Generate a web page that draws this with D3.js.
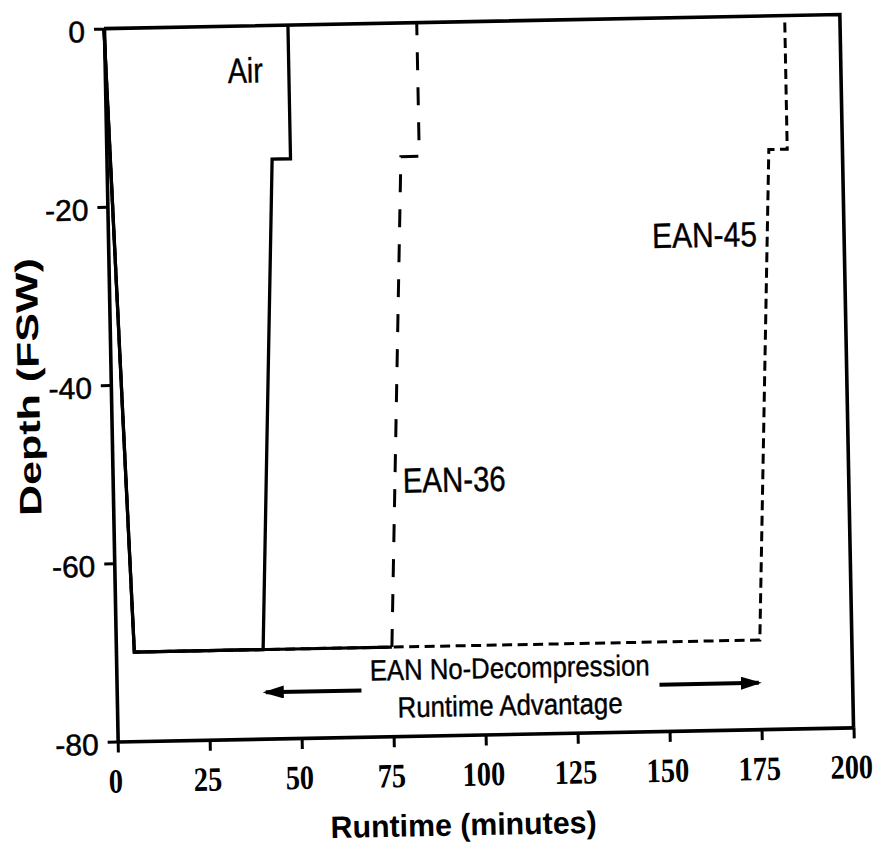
<!DOCTYPE html>
<html>
<head>
<meta charset="utf-8">
<script src="https://cdn.jsdelivr.net/npm/d3@7"></script>
<style>
  body { margin: 0; background: #fff; }
  svg { display: block; }
</style>
</head>
<body>
<svg id="chart" width="878" height="845"></svg>
<script>
// Axis ticks
const runtimeTicks = [0, 25, 50, 75, 100, 125, 150, 175, 200];
const depthTicks = [0, -20, -40, -60, -80];

// Dive profiles: runtime (minutes) and depth (FSW)
const airRuntime   = [0, 5, 40, 45, 50, 50];
const airDepth     = [0, -70, -70, -15, -15, 0];
const ean36Runtime = [0, 5, 75, 80, 85, 85];
const ean36Depth   = [0, -70, -70, -15, -15, 0];
const ean45Runtime = [0, 5, 175, 180, 185, 185];
const ean45Depth   = [0, -70, -70, -15, -15, 0];

// Runtime-advantage arrows (from, to) and their depth
const advantageLeft = [66.5, 40.5];
const advantageRight = [147.5, 174.5];
const advantageDepth = -74.8;

const sans = "'Liberation Sans', Arial, Helvetica, sans-serif";
const serif = "'Liberation Serif', 'Times New Roman', serif";

const svg = d3.select("#chart");
const g = svg.append("g").attr("transform", "rotate(-1.1 478.75 378)");

const x = d3.scaleLinear().domain([0, 200]).range([110.75, 846.75]);
const y = d3.scaleLinear().domain([0, -80]).range([21.5, 734.5]);

// Plain hyphen-minus tick labels
const plain = d => String(d);

// Top and right edges of the frame
g.append("path")
  .attr("d", `M${x(0)},${y(0)}H${x(200)}V${y(-80)}`)
  .attr("fill", "none").attr("stroke", "#000")
  .attr("stroke-width", 3.6).attr("stroke-linejoin", "miter");

// Bottom axis
const xAxisG = g.append("g").attr("transform", `translate(0,${y(-80)})`)
  .call(d3.axisBottom(x).tickValues(runtimeTicks).tickSize(11).tickSizeOuter(0).tickFormat(plain));
xAxisG.select(".domain").attr("stroke-width", 3.6);
xAxisG.selectAll(".tick line").attr("stroke-width", 3);
xAxisG.selectAll(".tick text")
  .attr("y", 51).attr("dy", 0).attr("dx", -3)
  .attr("font-family", serif).attr("font-weight", "bold").attr("font-size", 34)
  .attr("fill", "#000")
  .attr("textLength", d => String(d).length * 14.2)
  .attr("lengthAdjust", "spacingAndGlyphs");

// Left axis
const yAxisG = g.append("g").attr("transform", `translate(${x(0)},0)`)
  .call(d3.axisLeft(y).tickValues(depthTicks).tickSize(10).tickSizeOuter(0).tickFormat(plain));
yAxisG.select(".domain").attr("stroke-width", 3.6);
yAxisG.selectAll(".tick line").attr("stroke-width", 3);
yAxisG.selectAll(".tick text")
  .attr("x", -19).attr("dy", "0.42em")
  .attr("font-family", sans).attr("font-size", 30).attr("fill", "#000")
  .attr("stroke", "#000").attr("stroke-width", 0.5);

// Profiles
const line = d3.line().x(d => x(d[0])).y(d => y(d[1]));
const air = d3.zip(airRuntime, airDepth);
const ean36 = d3.zip(ean36Runtime, ean36Depth);
const ean45 = d3.zip(ean45Runtime, ean45Depth);

g.append("path").datum(ean45).attr("d", line)
  .attr("fill", "none").attr("stroke", "#000").attr("stroke-width", 3)
  .attr("stroke-dasharray", "10,5.5");

g.append("path").datum(ean36.slice(0, 3)).attr("d", line)
  .attr("fill", "none").attr("stroke", "#000").attr("stroke-width", 3.2);
g.append("path").datum(ean36.slice(2)).attr("d", line)
  .attr("fill", "none").attr("stroke", "#000").attr("stroke-width", 3)
  .attr("stroke-dasharray", "18,17");

g.append("path").datum(air).attr("d", line)
  .attr("fill", "none").attr("stroke", "#000").attr("stroke-width", 3.3)
  .attr("stroke-linejoin", "miter");

// Arrowhead
svg.append("defs").append("marker")
  .attr("id", "head").attr("viewBox", "0 0 21 13")
  .attr("refX", 18).attr("refY", 6.5)
  .attr("markerWidth", 21).attr("markerHeight", 13)
  .attr("markerUnits", "userSpaceOnUse").attr("orient", "auto")
  .append("path").attr("d", "M0,0L21,6.5L0,13Z").attr("fill", "#000");

[advantageLeft, advantageRight].forEach(a => {
  g.append("line")
    .attr("x1", x(a[0])).attr("y1", y(advantageDepth))
    .attr("x2", x(a[1])).attr("y2", y(advantageDepth))
    .attr("stroke", "#000").attr("stroke-width", 4)
    .attr("marker-end", "url(#head)");
});

// Text annotations
function note(text, xv, yv, size, width, anchor) {
  g.append("text")
    .attr("x", x(xv)).attr("y", y(yv))
    .attr("font-family", sans).attr("font-size", size)
    .attr("text-anchor", anchor).attr("fill", "#000")
    .attr("stroke", "#000").attr("stroke-width", 0.4)
    .attr("textLength", width).attr("lengthAdjust", "spacingAndGlyphs")
    .text(text);
}
note("Air", 33.4, -6.36, 35, 35, "start");
note("EAN-36", 78.8, -52.7, 35, 103, "start");
note("EAN-45", 147.8, -25.8, 35, 105, "start");
note("EAN No-Decompression", 106.9, -73.7, 29, 280, "middle");
note("Runtime Advantage", 106.8, -77.9, 29, 225, "middle");

// Axis titles
g.append("text")
  .attr("x", 455).attr("y", 835)
  .attr("font-family", sans).attr("font-weight", "bold").attr("font-size", 31)
  .attr("text-anchor", "middle").attr("fill", "#000")
  .attr("textLength", 266).attr("lengthAdjust", "spacingAndGlyphs")
  .text("Runtime (minutes)");

g.append("text")
  .attr("transform", "translate(39,378.4) rotate(-90)")
  .attr("font-family", sans).attr("font-weight", "bold").attr("font-size", 31)
  .attr("text-anchor", "middle").attr("fill", "#000")
  .attr("textLength", 258).attr("lengthAdjust", "spacingAndGlyphs")
  .text("Depth (FSW)");
</script>
</body>
</html>
